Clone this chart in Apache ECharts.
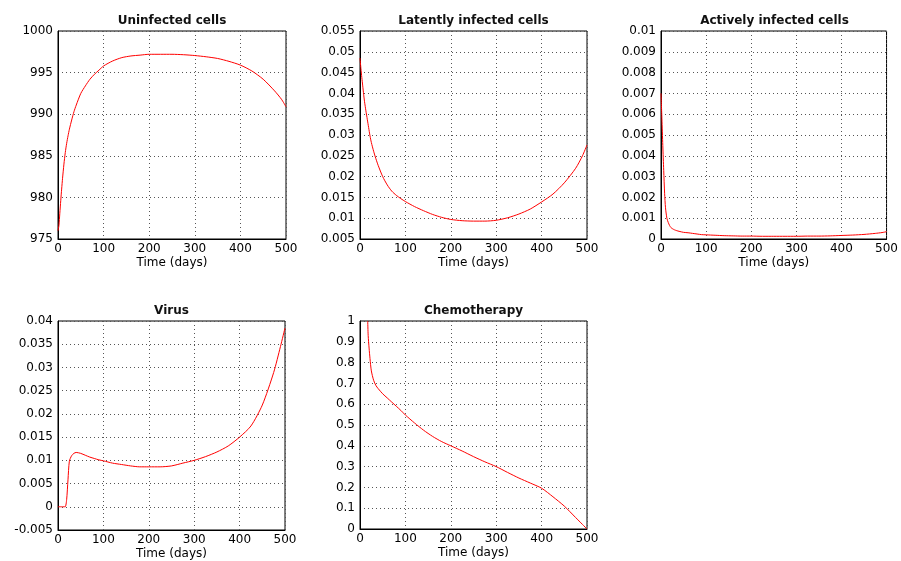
<!DOCTYPE html>
<html>
<head>
<meta charset="utf-8">
<script src="https://cdn.jsdelivr.net/npm/echarts@6/dist/echarts.min.js"></script>
<style>
  html, body { margin: 0; padding: 0; background: #fff; }
  #main { width: 901px; height: 561px; }
</style>
</head>
<body>
<div id="main"></div>
<script>
// time samples (days), denser at the start where curves move fast
var days = [0, 2, 4, 6, 8, 10, 13, 16, 19, 22, 25, 30, 35, 40, 50, 60, 70, 80, 90, 100,
            120, 140, 160, 180, 200, 225, 250, 275, 300, 325, 350, 375, 400, 425, 450, 475, 490, 500];

var uninfected = [976.0, 976.6, 978.1, 979.6, 981.0, 982.3, 984.0, 985.4, 986.5, 987.4,
                  988.2, 989.3, 990.3, 991.1, 992.5, 993.4, 994.2, 994.8, 995.3, 995.8,
                  996.4, 996.8, 997.0, 997.1, 997.2, 997.2, 997.2, 997.15, 997.05, 996.9,
                  996.7, 996.35, 995.9, 995.2, 994.2, 992.8, 991.8, 990.9];

var latent = [0.0485, 0.0460, 0.0438, 0.0418, 0.0398, 0.0380, 0.0358, 0.0338, 0.0318, 0.0298,
              0.0282, 0.0261, 0.0243, 0.0227, 0.0200, 0.0180, 0.0165, 0.0155, 0.0147, 0.0140,
              0.0128, 0.0118, 0.0109, 0.0102, 0.0097, 0.0094, 0.0093, 0.0093, 0.0095, 0.0101,
              0.0110, 0.0122, 0.0139, 0.0158, 0.0185, 0.0220, 0.0250, 0.0276];

var active = [0.0070, 0.0058, 0.0045, 0.0033, 0.0022, 0.0015, 0.0010, 0.0008, 0.00065, 0.00055,
              0.0005, 0.00044, 0.0004, 0.00037, 0.00032, 0.0003, 0.00027, 0.00024, 0.00021, 0.0002,
              0.00018, 0.00016, 0.00015, 0.00014, 0.00014, 0.00013, 0.00013, 0.00013, 0.00013, 0.00014,
              0.00014, 0.00015, 0.00017, 0.00019, 0.00022, 0.00027, 0.00031, 0.00035];

var virus = [0, 0, 0, 0, 0, 0, 0, 0, 0.0015, 0.0058,
             0.0098, 0.0110, 0.0115, 0.0117, 0.0115, 0.0111, 0.0107, 0.0104, 0.0101, 0.0099,
             0.0094, 0.0091, 0.0088, 0.0086, 0.0086, 0.0086, 0.0088, 0.0094, 0.0100, 0.0108,
             0.0118, 0.0131, 0.0150, 0.0174, 0.0219, 0.0289, 0.0345, 0.0385];

// chemotherapy curve enters the plot from above at about day 17
var chemoDays = [17, 18, 20, 22, 25, 30, 35, 40, 50, 60, 70, 80, 90, 100, 120, 140, 160, 180,
                 200, 225, 250, 275, 300, 325, 350, 375, 400, 425, 450, 475, 490, 500];
var chemo = [1.0, 0.93, 0.87, 0.82, 0.76, 0.715, 0.69, 0.675, 0.65, 0.63, 0.61, 0.59, 0.57, 0.548,
             0.51, 0.475, 0.445, 0.42, 0.40, 0.375, 0.348, 0.323, 0.30, 0.272, 0.245, 0.221,
             0.196, 0.155, 0.11, 0.055, 0.022, 0];

var titles = ['Uninfected cells', 'Latently infected cells', 'Actively infected cells', 'Virus', 'Chemotherapy'];
var yMin = [975, 0.005, 0, -0.005, 0];
var yMax = [1000, 0.055, 0.01, 0.04, 1];
var yStep = [5, 0.005, 0.001, 0.005, 0.1];

var boxes = [
  { left: 58, top: 31, width: 228, height: 208 },
  { left: 360, top: 31, width: 227, height: 208 },
  { left: 661, top: 31, width: 227, height: 208 },
  { left: 58, top: 321, width: 227, height: 209 },
  { left: 360, top: 321, width: 227, height: 208 }
];

function pairs(xs, ys) {
  return xs.map(function (x, i) { return [x, ys[i]]; });
}
var seriesData = [
  pairs(days, uninfected),
  pairs(days, latent),
  pairs(days, active),
  pairs(days, virus),
  pairs(chemoDays, chemo)
];

var font = 'DejaVu Sans';
var gridLine = { show: true, lineStyle: { color: '#555', type: [1, 3], width: 1 } };
// plain numbers, no thousands separator, no float noise
function plain(v) { return String(+v.toFixed(6)); }

var option = {
  animation: false,
  backgroundColor: '#fff',
  title: [], grid: [], xAxis: [], yAxis: [], series: []
};

boxes.forEach(function (b, i) {
  option.grid.push({
    left: b.left, top: b.top, width: b.width, height: b.height,
    show: true, borderColor: '#000', borderWidth: 1, backgroundColor: '#fff'
  });
  option.title.push({
    text: titles[i],
    left: b.left + b.width / 2,
    top: b.top - 16,
    padding: 0,
    textAlign: 'center',
    textStyle: { fontFamily: font, fontSize: 12, fontWeight: 'bold', color: '#111' }
  });
  option.xAxis.push({
    type: 'value', gridIndex: i, min: 0, max: 500, interval: 100,
    name: 'Time (days)', nameLocation: 'middle', nameGap: 18,
    nameTextStyle: { fontFamily: font, fontSize: 12, color: '#000' },
    axisLine: { show: true, onZero: false, lineStyle: { color: '#000' } },
    axisTick: { show: false },
    axisLabel: { fontFamily: font, fontSize: 12, color: '#000', margin: 4, formatter: plain },
    splitLine: gridLine
  });
  option.yAxis.push({
    type: 'value', gridIndex: i, min: yMin[i], max: yMax[i], interval: yStep[i],
    axisLine: { show: true, onZero: false, lineStyle: { color: '#000' } },
    axisTick: { show: false },
    axisLabel: { fontFamily: font, fontSize: 12, color: '#000', margin: 5, formatter: plain },
    splitLine: gridLine
  });
  option.series.push({
    type: 'line', xAxisIndex: i, yAxisIndex: i,
    data: seriesData[i],
    showSymbol: false,
    smooth: 0.25,
    lineStyle: { color: '#ff0000', width: 1 },
    itemStyle: { color: '#ff0000' }
  });
});

var chart = echarts.init(document.getElementById('main'));
chart.setOption(option);
</script>
</body>
</html>
